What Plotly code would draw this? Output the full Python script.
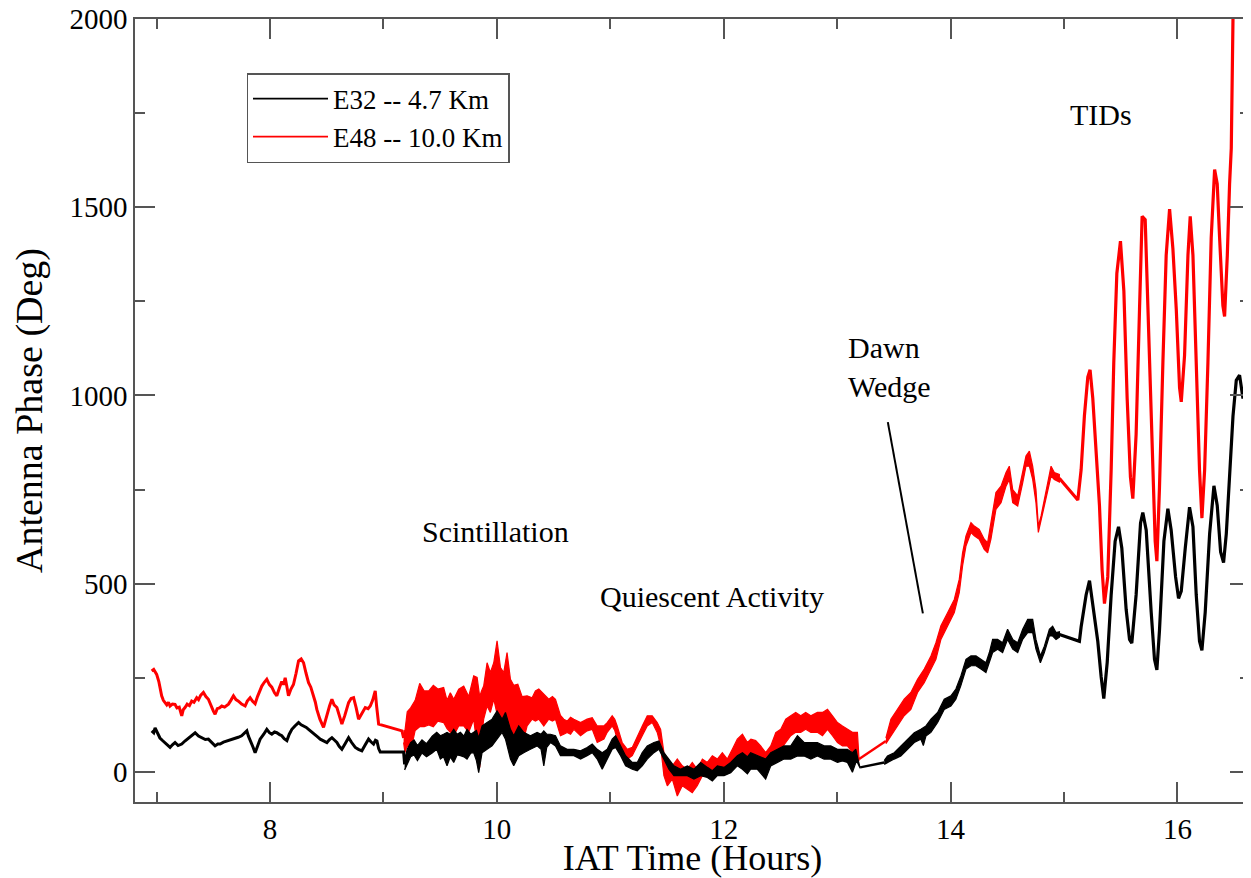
import plotly.graph_objects as go

# ---------------- data ----------------
# E48 (10.0 Km) -- red
e48_early = [(6.957, 268), (6.975, 272), (7.001, 259), (7.02, 240), (7.045, 202), (7.06, 190),
             (7.075, 184), (7.09, 178), (7.105, 185), (7.119, 175), (7.14, 180), (7.163, 179),
             (7.18, 170), (7.2, 172), (7.222, 149), (7.235, 165), (7.251, 171), (7.27, 180),
             (7.29, 176), (7.31, 188), (7.33, 185), (7.354, 197), (7.37, 192), (7.39, 204),
             (7.413, 211), (7.435, 200), (7.457, 193), (7.48, 175), (7.5, 162), (7.516, 153),
             (7.535, 168), (7.555, 170), (7.575, 175), (7.6, 172), (7.634, 180), (7.655, 190),
             (7.678, 202), (7.7, 192), (7.722, 188), (7.75, 180), (7.781, 175), (7.8, 188),
             (7.825, 197), (7.845, 188), (7.869, 181), (7.89, 200), (7.91, 215), (7.928, 228),
             (7.95, 238), (7.972, 246), (7.995, 232), (8.016, 225), (8.04, 210), (8.06, 202),
             (8.085, 225), (8.104, 240), (8.12, 232), (8.134, 250), (8.15, 225), (8.163, 202),
             (8.185, 220), (8.207, 232), (8.23, 262), (8.252, 295), (8.275, 300), (8.296, 290),
             (8.318, 262), (8.34, 237), (8.36, 225), (8.384, 202), (8.4, 185), (8.413, 166),
             (8.44, 140), (8.472, 118), (8.49, 140), (8.502, 150), (8.525, 175), (8.546, 193),
             (8.565, 178), (8.59, 171), (8.61, 150), (8.634, 127), (8.66, 150), (8.693, 184),
             (8.715, 195), (8.737, 197), (8.76, 170), (8.781, 140), (8.81, 155), (8.84, 171),
             (8.865, 168), (8.884, 175), (8.905, 190), (8.928, 215), (8.94, 175), (8.958, 127),
             (9.164, 109), (9.178, 90)]

# noisy stretch: (time, upper edge, lower edge)
e48_scint = [(9.178, 109, 78), (9.19, 110, 52), (9.21, 160, 70), (9.24, 170, 55), (9.28, 190, 110),
             (9.32, 235, 120), (9.36, 215, 120), (9.40, 215, 125), (9.44, 230, 120), (9.48, 220, 135),
             (9.531, 224, 131), (9.561, 190, 115), (9.59, 210, 105), (9.62, 193, 96), (9.664, 220, 122),
             (9.708, 228, 122), (9.752, 200, 105), (9.796, 255, 140), (9.826, 251, 69), (9.849, 200, 12),
             (9.865, 215, 90), (9.884, 228, 140), (9.914, 290, 175), (9.943, 264, 158), (9.973, 290, 193),
             (10.002, 348, 158), (10.032, 277, 113), (10.061, 264, 158), (10.09, 317, 140), (10.12, 246, 69),
             (10.149, 230, 78), (10.185, 233, 113), (10.223, 200, 69), (10.267, 202, 122), (10.311, 197, 140),
             (10.34, 215, 135), (10.37, 220, 140), (10.414, 206, 122), (10.458, 193, 140), (10.49, 200, 135),
             (10.517, 193, 140), (10.561, 150, 96), (10.59, 140, 100), (10.62, 135, 105), (10.65, 145, 100),
             (10.679, 140, 113), (10.738, 131, 96), (10.796, 140, 109), (10.841, 144, 113), (10.885, 122, 78),
             (10.944, 122, 87), (10.973, 131, 105), (11.017, 149, 122), (11.04, 140, 110), (11.061, 122, 87),
             (11.105, 78, 51), (11.15, 60, 34), (11.194, 65, 43), (11.238, 96, 69), (11.282, 122, 96),
             (11.326, 149, 122), (11.37, 149, 131), (11.414, 131, 105), (11.444, 113, 69), (11.473, 51, -10),
             (11.503, 34, -37), (11.547, 16, -19), (11.591, 34, -64), (11.635, 16, -37), (11.679, 7, -46),
             (11.723, 25, -55), (11.767, 7, -37), (11.812, 34, -10), (11.856, 25, -2), (11.9, 43, -2),
             (11.944, 34, -2), (11.988, 51, 7), (12.032, 34, 7), (12.076, 60, 16), (12.12, 87, 43),
             (12.165, 100, 51), (12.209, 78, 43), (12.24, 87, 16), (12.282, 83, 34), (12.326, 69, 16),
             (12.37, 51, -10), (12.415, 69, 34), (12.459, 104, 51), (12.503, 113, 60), (12.547, 140, 78),
             (12.591, 149, 96), (12.635, 158, 105), (12.679, 149, 105), (12.723, 158, 113), (12.768, 149, 105),
             (12.826, 158, 105), (12.871, 158, 96), (12.915, 166, 113), (12.959, 149, 96), (13.003, 131, 78),
             (13.047, 122, 69), (13.091, 113, 69), (13.135, 105, 51), (13.179, 105, 34), (13.194, 40, 30)]

e48_gap = [(13.194, 34), (13.43, 82)]

e48_dawn = [(13.43, 90, 75), (13.474, 140, 96), (13.532, 166, 122), (13.591, 193, 149), (13.65, 211, 166),
            (13.709, 246, 211), (13.768, 273, 237), (13.827, 308, 273), (13.871, 343, 299), (13.915, 388, 352),
            (13.974, 423, 388), (14.033, 458, 423), (14.077, 512, 476), (14.106, 582, 547), (14.136, 627, 600),
            (14.18, 662, 636), (14.209, 653, 627), (14.253, 644, 618), (14.297, 618, 591), (14.327, 609, 582),
            (14.356, 662, 618), (14.4, 742, 697), (14.445, 759, 715), (14.489, 795, 759), (14.518, 812, 777),
            (14.548, 750, 715), (14.592, 733, 706), (14.636, 795, 768), (14.665, 839, 812), (14.695, 852, 812),
            (14.724, 812, 777), (14.753, 750, 715), (14.774, 653, 636), (14.798, 680, 662), (14.842, 750, 724),
            (14.886, 812, 786), (14.915, 795, 777), (14.959, 790, 770)]

e48_tids = [(14.959, 780), (15.122, 722), (15.151, 802), (15.18, 945), (15.21, 1049), (15.23, 1068),
            (15.254, 992), (15.283, 850), (15.313, 707), (15.336, 537), (15.357, 447), (15.386, 518),
            (15.416, 802), (15.439, 1087), (15.466, 1324), (15.498, 1410), (15.528, 1277), (15.557, 992),
            (15.586, 783), (15.607, 726), (15.636, 897), (15.666, 1229), (15.689, 1476), (15.716, 1467),
            (15.745, 1182), (15.778, 850), (15.804, 613), (15.819, 560), (15.842, 755), (15.872, 1087),
            (15.901, 1372), (15.931, 1495), (15.96, 1391), (15.99, 1229), (16.019, 1021), (16.034, 983),
            (16.063, 1106), (16.093, 1372), (16.113, 1476), (16.137, 1372), (16.166, 1087), (16.195, 802),
            (16.216, 674), (16.24, 802), (16.269, 1087), (16.298, 1419), (16.328, 1600), (16.351, 1562),
            (16.372, 1419), (16.401, 1239), (16.416, 1210), (16.44, 1372), (16.46, 1562), (16.475, 1657),
            (16.49, 2000), (16.50, 2150)]

# E32 (4.7 Km) -- black
e32_early = [(6.957, 109), (6.975, 104), (6.987, 117), (7.01, 100), (7.03, 90), (7.05, 84), (7.075, 78),
             (7.095, 72), (7.119, 65), (7.14, 72), (7.163, 78), (7.19, 70), (7.222, 74), (7.25, 82),
             (7.28, 90), (7.31, 97), (7.34, 104), (7.37, 95), (7.4, 91), (7.43, 86), (7.457, 87),
             (7.49, 76), (7.516, 69), (7.54, 74), (7.56, 74), (7.59, 79), (7.62, 82), (7.655, 84),
             (7.69, 87), (7.72, 92), (7.75, 96), (7.775, 103), (7.796, 109), (7.81, 95), (7.825, 82),
             (7.85, 66), (7.869, 51), (7.89, 70), (7.913, 87), (7.945, 100), (7.972, 113), (7.995, 104),
             (8.016, 100), (8.04, 106), (8.06, 104), (8.085, 99), (8.104, 96), (8.125, 88), (8.149, 83),
             (8.17, 100), (8.193, 113), (8.22, 122), (8.252, 131), (8.275, 125), (8.296, 122), (8.32, 118),
             (8.34, 113), (8.37, 106), (8.399, 100), (8.42, 93), (8.443, 87), (8.47, 83), (8.502, 78),
             (8.525, 86), (8.546, 91), (8.57, 84), (8.59, 78), (8.61, 68), (8.634, 60), (8.665, 76),
             (8.693, 91), (8.72, 78), (8.752, 65), (8.78, 60), (8.81, 56), (8.84, 72), (8.869, 87),
             (8.89, 80), (8.913, 74), (8.93, 84), (8.943, 82), (8.958, 62), (8.972, 53), (9.178, 53),
             (9.187, 20)]

e32_scint = [(9.187, 34, 5), (9.21, 60, 20), (9.24, 78, 40), (9.27, 85, 45), (9.30, 70, 30), (9.34, 85, 50),
             (9.38, 75, 40), (9.43, 95, 50), (9.47, 105, 60), (9.502, 96, 34), (9.53, 100, 40), (9.561, 105, 16),
             (9.59, 100, 40), (9.62, 113, 25), (9.65, 100, 45), (9.679, 105, 43), (9.71, 95, 40), (9.737, 113, 34),
             (9.77, 100, 50), (9.796, 105, 51), (9.82, 110, 30), (9.84, 90, -2), (9.87, 122, 51), (9.914, 131, 60),
             (9.958, 140, 69), (10.002, 162, 87), (10.046, 140, 105), (10.076, 158, 87), (10.1, 130, 60),
             (10.12, 113, 34), (10.149, 96, 16), (10.193, 122, 43), (10.237, 105, 51), (10.27, 100, 55),
             (10.296, 96, 60), (10.355, 105, 69), (10.39, 100, 60), (10.414, 109, 16), (10.44, 100, 65),
             (10.473, 100, 78), (10.517, 96, 69), (10.561, 69, 43), (10.62, 60, 43), (10.679, 60, 43),
             (10.738, 56, 34), (10.796, 65, 43), (10.841, 74, 51), (10.885, 60, 34), (10.929, 51, 7),
             (10.973, 60, 34), (11.017, 87, 60), (11.047, 96, 65), (11.091, 69, 43), (11.135, 43, 16),
             (11.194, 25, 7), (11.238, 25, 3), (11.282, 51, 16), (11.326, 69, 34), (11.385, 78, 51),
             (11.429, 82, 60), (11.473, 51, 34), (11.517, 34, 7), (11.561, 16, -10), (11.62, 7, -10),
             (11.679, 16, -10), (11.738, 7, -19), (11.797, 25, -10), (11.856, 12, -15), (11.9, 3, -24),
             (11.944, 16, -10), (12.003, 12, -10), (12.062, 25, -2), (12.12, 43, 16), (12.165, 51, 7),
             (12.209, 40, -5), (12.238, 51, 7), (12.297, 43, 7), (12.37, 34, -19), (12.415, 51, 16),
             (12.474, 60, 25), (12.532, 69, 34), (12.591, 69, 34), (12.65, 96, 42), (12.709, 78, 42),
             (12.768, 78, 34), (12.826, 78, 42), (12.885, 69, 34), (12.944, 69, 34), (13.003, 60, 25),
             (13.047, 60, 29), (13.091, 60, 25), (13.135, 51, -1), (13.165, 60, 25), (13.179, 40, 25),
             (13.203, 14, 10)]

e32_gap = [(13.203, 12), (13.415, 25)]

e32_dawn = [(13.415, 30, 20), (13.444, 42, 25), (13.503, 51, 34), (13.562, 69, 42), (13.621, 87, 60),
            (13.68, 104, 78), (13.738, 113, 87), (13.76, 118, 70), (13.783, 122, 95), (13.827, 140, 105),
            (13.886, 158, 131), (13.944, 193, 166), (14.003, 202, 175), (14.047, 220, 193), (14.091, 255, 229),
            (14.136, 299, 273), (14.18, 308, 282), (14.224, 308, 282), (14.268, 299, 273), (14.312, 290, 264),
            (14.342, 317, 290), (14.371, 352, 317), (14.415, 352, 326), (14.459, 343, 317), (14.503, 379, 352),
            (14.548, 352, 326), (14.592, 343, 317), (14.636, 379, 352), (14.68, 405, 370), (14.724, 405, 370),
            (14.753, 352, 326), (14.792, 308, 290), (14.827, 334, 317), (14.871, 379, 361), (14.9, 387, 361),
            (14.93, 370, 352), (14.96, 372, 358)]

e32_tids = [(14.96, 365), (15.136, 347), (15.151, 385), (15.195, 470), (15.225, 508), (15.254, 442),
            (15.298, 347), (15.328, 252), (15.351, 195), (15.381, 290), (15.416, 470), (15.451, 613),
            (15.481, 651), (15.51, 594), (15.548, 432), (15.578, 352), (15.598, 342), (15.636, 470),
            (15.675, 661), (15.695, 689), (15.725, 642), (15.769, 424), (15.798, 299), (15.819, 271),
            (15.842, 376), (15.881, 613), (15.916, 699), (15.945, 642), (15.984, 518), (16.01, 461),
            (16.034, 480), (16.069, 594), (16.107, 703), (16.137, 651), (16.166, 470), (16.195, 347),
            (16.216, 323), (16.245, 424), (16.284, 632), (16.322, 760), (16.351, 708), (16.381, 584),
            (16.407, 556), (16.431, 632), (16.46, 802), (16.49, 945), (16.519, 1040), (16.548, 1054),
            (16.578, 992), (16.607, 1030), (16.637, 1059)]

series_names = ["E32 -- 4.7 Km", "E48 -- 10.0 Km"]
series_colors = ["#000000", "#ff0000"]

x_ticks = [8, 10, 12, 14, 16]
y_ticks = [0, 500, 1000, 1500, 2000]

notes = [("Scintillation", 9.99, 639), ("Quiescent Activity", 11.90, 466), ("TIDs", 15.33, 1746)]
dawn_note = ("Dawn<br>Wedge", 13.08, 1075)
pointer = [(13.447, 929), (13.756, 421)]

FONT = "Liberation Serif, Times New Roman, serif"

fig = go.Figure()

# legend entries
for name, col in zip(series_names, series_colors):
    fig.add_trace(go.Scatter(x=[None], y=[None], mode="lines", name=name,
                             line=dict(color=col, width=1.8), showlegend=True))


def add_line(pts, col, w=3.0):
    t, v = zip(*pts)
    fig.add_trace(go.Scatter(x=list(t), y=list(v), mode="lines", showlegend=False,
                             line=dict(color=col, width=w), hoverinfo="skip"))


def add_band(pts, col):
    t, hi, lo = zip(*pts)
    xs = list(t) + list(t)[::-1]
    ys = list(hi) + list(lo)[::-1]
    fig.add_trace(go.Scatter(x=xs, y=ys, mode="lines", fill="toself", fillcolor=col,
                             line=dict(color=col, width=1.2), showlegend=False, hoverinfo="skip"))


# red drawn first, black on top
red, black = series_colors[1], series_colors[0]
add_line(e48_early, red)
add_band(e48_scint, red)
add_line(e48_gap, red, 2.4)
add_band(e48_dawn, red)
add_line(e48_tids, red, 3.2)

add_line(e32_early, black)
add_band(e32_scint, black)
add_line(e32_gap, black, 2.4)
add_band(e32_dawn, black)
add_line(e32_tids, black, 3.2)

for txt, tx, ty in notes:
    fig.add_annotation(x=tx, y=ty, xref="x", yref="y", text=txt, showarrow=False,
                       font=dict(family=FONT, size=30, color="black"))
fig.add_annotation(x=dawn_note[1], y=dawn_note[2], xref="x", yref="y", text=dawn_note[0],
                   showarrow=False, xanchor="left", align="left",
                   font=dict(family=FONT, size=30, color="black"))
fig.add_shape(type="line", xref="x", yref="y", x0=pointer[0][0], y0=pointer[0][1],
              x1=pointer[1][0], y1=pointer[1][1], line=dict(color="black", width=2))

axis_common = dict(showline=True, linecolor="#555555", linewidth=1.5, mirror="allticks",
                   ticks="inside", ticklen=20, tickwidth=1.5, tickcolor="#555555",
                   showgrid=False, zeroline=False, automargin=False, ticklabeloverflow="allow",
                   tickfont=dict(family=FONT, size=29, color="black"))

fig.update_xaxes(range=[6.81, 16.64], tickvals=x_ticks, **axis_common,
                 minor=dict(ticks="inside", ticklen=10, dtick=1, tick0=7, tickwidth=1.5,
                            tickcolor="#555555"),
                 title=dict(text="IAT Time (Hours)", font=dict(family=FONT, size=36, color="black"),
                            standoff=8))
fig.update_yaxes(range=[-80, 2000], tickvals=y_ticks, **axis_common,
                 minor=dict(ticks="inside", ticklen=10, dtick=250, tick0=0, tickwidth=1.5,
                            tickcolor="#555555"),
                 title=dict(text="Antenna Phase (Deg)", font=dict(family=FONT, size=38, color="black"),
                            standoff=16))

# the page adds an 8 px body margin, so the figure is sized to fit the 1251x878 window
fig.update_layout(width=1243, height=870, margin=dict(l=127, r=1, t=11, b=76),
                  plot_bgcolor="white", paper_bgcolor="white",
                  legend=dict(x=0.1, y=0.931, xanchor="left", yanchor="top",
                              bordercolor="#555555", borderwidth=1.5, bgcolor="white",
                              font=dict(family=FONT, size=27, color="black"),
                              tracegroupgap=0, itemwidth=75),
                  showlegend=True)

fig.write_html("out.html")
